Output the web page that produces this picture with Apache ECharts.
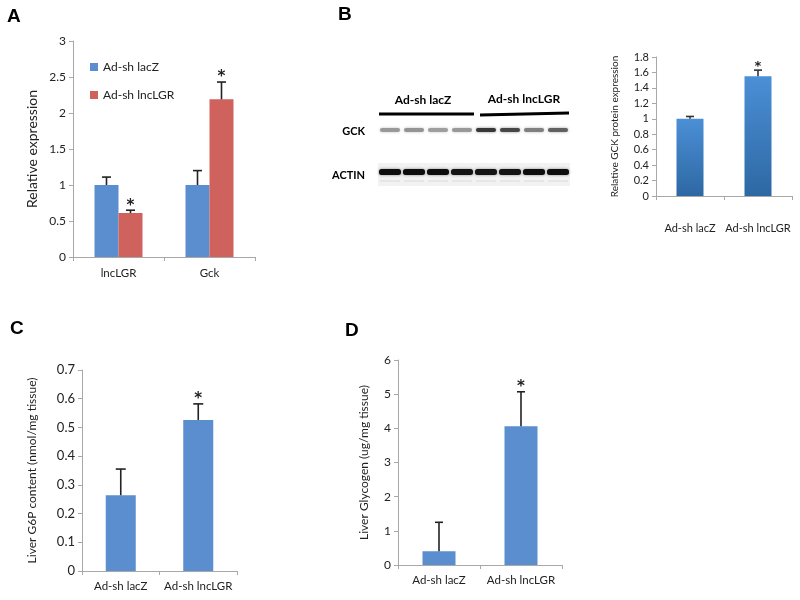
<!DOCTYPE html>
<html><head><meta charset="utf-8">
<script src="https://cdn.jsdelivr.net/npm/echarts@6/dist/echarts.min.js"></script>
<style>html,body{margin:0;padding:0;background:#fff}#c{width:800px;height:600px}</style>
</head><body><div id="c"></div>
<script>
// ---------- Panel A data ----------
const aCategories = ['lncLGR', 'Gck'];
const aSeriesNames = ['Ad-sh lacZ', 'Ad-sh lncLGR'];
const aLacZ = [1.0, 1.0];
const aLacZErrTop = [1.11, 1.20];
const aLacZStar = [0, 0];
const aLnc = [0.61, 2.19];
const aLncErrTop = [0.65, 2.43];
const aLncStar = [1, 1];
const aTicks = [0, 0.5, 1, 1.5, 2, 2.5, 3];
// ---------- Panel B data ----------
const bCategories = ['Ad-sh lacZ', 'Ad-sh lncLGR'];
const bValues = [1.0, 1.55];
const bErrTop = [1.03, 1.63];
const bStar = [0, 1];
const bTicks = [0, 0.2, 0.4, 0.6, 0.8, 1, 1.2, 1.4, 1.6, 1.8];
const blotGroups = ['Ad-sh lacZ', 'Ad-sh lncLGR'];
const blotRows = ['GCK', 'ACTIN'];
const gckIntensity = [0.40, 0.42, 0.38, 0.40, 0.78, 0.72, 0.50, 0.62];
const actinIntensity = [0.95, 0.95, 0.95, 0.92, 0.92, 0.92, 0.95, 0.95];
// ---------- Panel C data ----------
const cCategories = ['Ad-sh lacZ', 'Ad-sh lncLGR'];
const cValues = [0.264, 0.526];
const cErrTop = [0.355, 0.582];
const cStar = [0, 1];
const cTicks = [0, 0.1, 0.2, 0.3, 0.4, 0.5, 0.6, 0.7];
// ---------- Panel D data ----------
const dCategories = ['Ad-sh lacZ', 'Ad-sh lncLGR'];
const dValues = [0.40, 4.06];
const dErrTop = [1.25, 5.07];
const dStar = [0, 1];
const dTicks = [0, 1, 2, 3, 4, 5, 6];

const FONT = 'Lato';
const BLUE = '#5a8ecf';
const RED = '#d0625d';
const AXIS = '#a8a8a8';

function errData(vals, tops, stars) {
  return vals.map((v, i) => [i, v, tops[i], stars[i]]);
}
function errRender(offset, color, capHalf, starSize) {
  return function (params, api) {
    const x = api.value(0), v = api.value(1), e = api.value(2), s = api.value(3);
    const p0 = api.coord([x, v]), p1 = api.coord([x, e]);
    const cx = p0[0] + offset;
    const ch = [
      {type: 'line', shape: {x1: cx, y1: p0[1], x2: cx, y2: p1[1]}, style: {stroke: color, lineWidth: 1.6}},
      {type: 'line', shape: {x1: cx - capHalf, y1: p1[1], x2: cx + capHalf, y2: p1[1]}, style: {stroke: color, lineWidth: 1.6}}
    ];
    if (s) ch.push({type: 'text', style: {text: '*', x: cx, y: p1[1] + 3, align: 'center', verticalAlign: 'bottom',
      fontSize: starSize, fontWeight: 'bold', fontFamily: 'DejaVu Sans', fill: '#222'}});
    return {type: 'group', children: ch};
  };
}
function yAxisDef(grid, ticks, name, nameSize, nameGap, labelSize) {
  return {
    type: 'value', gridIndex: grid, min: ticks[0], max: ticks[ticks.length - 1],
    interval: ticks[1] - ticks[0], splitLine: {show: false},
    axisLine: {show: true, lineStyle: {color: AXIS}},
    axisTick: {show: true, length: 4, lineStyle: {color: AXIS}},
    axisLabel: {fontFamily: FONT, fontSize: labelSize, color: '#222', margin: 7},
    name: name, nameLocation: 'middle', nameGap: nameGap,
    nameTextStyle: {fontFamily: FONT, fontSize: nameSize, color: '#222'}
  };
}
function xAxisDef(grid, cats, margin, size) {
  return {
    type: 'category', gridIndex: grid, data: cats,
    axisLine: {show: true, lineStyle: {color: AXIS}},
    axisTick: {show: true, length: 4, lineStyle: {color: AXIS}},
    axisLabel: {fontFamily: FONT, fontSize: size, color: '#222', margin: margin, interval: 0}
  };
}

// ---------- Western blot graphics ----------
const laneX0 = 390, laneStep = 24;
const blot = [];
blot.push({type: 'rect', shape: {x: 378, y: 163, width: 192, height: 23}, style: {fill: '#f2f2f2'}});
function gray(t) { const g = Math.round(255 * (1 - t)); return 'rgb(' + g + ',' + g + ',' + g + ')'; }
gckIntensity.forEach((t, i) => {
  const cx = laneX0 + i * laneStep;
  blot.push({type: 'rect', shape: {x: cx - 10, y: 128, width: 20, height: 4, r: 2},
    style: {fill: gray(t), shadowBlur: 3, shadowColor: gray(t * 0.6)}});
});
actinIntensity.forEach((t, i) => {
  const cx = laneX0 + i * laneStep;
  blot.push({type: 'rect', shape: {x: cx - 11, y: 169, width: 22, height: 6, r: 2.5},
    style: {fill: gray(t), shadowBlur: 3, shadowColor: gray(t * 0.5)}});
  blot.push({type: 'rect', shape: {x: cx - 10, y: 180, width: 20, height: 2},
    style: {fill: gray(0.1)}});
});
blot.push({type: 'line', shape: {x1: 379, y1: 114, x2: 474, y2: 114}, style: {stroke: '#000', lineWidth: 3}});
blot.push({type: 'line', shape: {x1: 480, y1: 115, x2: 569, y2: 113}, style: {stroke: '#000', lineWidth: 3}});
blot.push({type: 'text', style: {text: blotGroups[0], x: 423, y: 100, align: 'center', verticalAlign: 'middle',
  fontFamily: FONT, fontWeight: 'bold', fontSize: 12, fill: '#000'}});
blot.push({type: 'text', style: {text: blotGroups[1], x: 524, y: 99, align: 'center', verticalAlign: 'middle',
  fontFamily: FONT, fontWeight: 'bold', fontSize: 12, fill: '#000'}});
blot.push({type: 'text', style: {text: blotRows[0], x: 365, y: 131, align: 'right', verticalAlign: 'middle',
  fontFamily: FONT, fontWeight: 'bold', fontSize: 11, fill: '#000'}});
blot.push({type: 'text', style: {text: blotRows[1], x: 365, y: 175, align: 'right', verticalAlign: 'middle',
  fontFamily: FONT, fontWeight: 'bold', fontSize: 11, fill: '#000'}});

const letters = [['A', 7, 17], ['B', 338, 15], ['C', 10, 329], ['D', 345, 331]].map(l => ({
  type: 'text', style: {text: l[0], x: l[1], y: l[2], verticalAlign: 'middle', fontFamily: 'Liberation Sans',
    fontWeight: 'bold', fontSize: 19, fill: '#000'}
}));

const chart = echarts.init(document.getElementById('c'));
chart.setOption({
  backgroundColor: '#fff',
  animation: false,
  textStyle: {fontFamily: FONT},
  legend: {
    data: aSeriesNames, left: 90, top: 61, orient: 'vertical', itemWidth: 8, itemHeight: 8, itemGap: 16,
    padding: 0, icon: 'rect', textStyle: {fontFamily: FONT, fontSize: 12, color: '#222'}
  },
  grid: [
    {left: 73, top: 41, width: 182, height: 216},
    {left: 656, top: 57, width: 136, height: 139},
    {left: 82, top: 370, width: 155, height: 201},
    {left: 398, top: 360, width: 164, height: 205}
  ],
  xAxis: [
    xAxisDef(0, aCategories, 10, 11.5),
    xAxisDef(1, bCategories, 27, 11),
    xAxisDef(2, cCategories, 9, 11.5),
    xAxisDef(3, dCategories, 9, 11.5)
  ],
  yAxis: [
    yAxisDef(0, aTicks, 'Relative expression', 14, 34, 12),
    yAxisDef(1, bTicks, 'Relative GCK protein expression', 10, 36, 11),
    yAxisDef(2, cTicks, 'Liver G6P content (nmol/mg tissue)', 12, 44, 13),
    yAxisDef(3, dTicks, 'Liver Glycogen (ug/mg tissue)', 12, 28, 12)
  ],
  graphic: blot.concat(letters),
  series: [
    {type: 'bar', name: aSeriesNames[0], xAxisIndex: 0, yAxisIndex: 0, data: aLacZ, barWidth: 24, barGap: '0%',
      itemStyle: {color: BLUE}},
    {type: 'bar', name: aSeriesNames[1], xAxisIndex: 0, yAxisIndex: 0, data: aLnc, barWidth: 24, barGap: '0%',
      itemStyle: {color: RED}},
    {type: 'custom', xAxisIndex: 0, yAxisIndex: 0, data: errData(aLacZ, aLacZErrTop, aLacZStar),
      renderItem: errRender(-12, '#222', 4.5, 15), z: 5},
    {type: 'custom', xAxisIndex: 0, yAxisIndex: 0, data: errData(aLnc, aLncErrTop, aLncStar),
      renderItem: errRender(12, '#222', 4.5, 15), z: 5},
    {type: 'bar', xAxisIndex: 1, yAxisIndex: 1, data: bValues, barWidth: 27,
      itemStyle: {color: new echarts.graphic.LinearGradient(0, 0, 0, 1,
        [{offset: 0, color: '#4b8fd6'}, {offset: 1, color: '#2d68a3'}])}},
    {type: 'custom', xAxisIndex: 1, yAxisIndex: 1, data: errData(bValues, bErrTop, bStar),
      renderItem: errRender(0, '#333', 4, 13), z: 5},
    {type: 'bar', xAxisIndex: 2, yAxisIndex: 2, data: cValues, barWidth: 30, itemStyle: {color: BLUE}},
    {type: 'custom', xAxisIndex: 2, yAxisIndex: 2, data: errData(cValues, cErrTop, cStar),
      renderItem: errRender(0, '#222', 5, 15), z: 5},
    {type: 'bar', xAxisIndex: 3, yAxisIndex: 3, data: dValues, barWidth: 33, itemStyle: {color: BLUE}},
    {type: 'custom', xAxisIndex: 3, yAxisIndex: 3, data: errData(dValues, dErrTop, dStar),
      renderItem: errRender(0, '#222', 4, 15), z: 5}
  ]
});
</script>
</body></html>
